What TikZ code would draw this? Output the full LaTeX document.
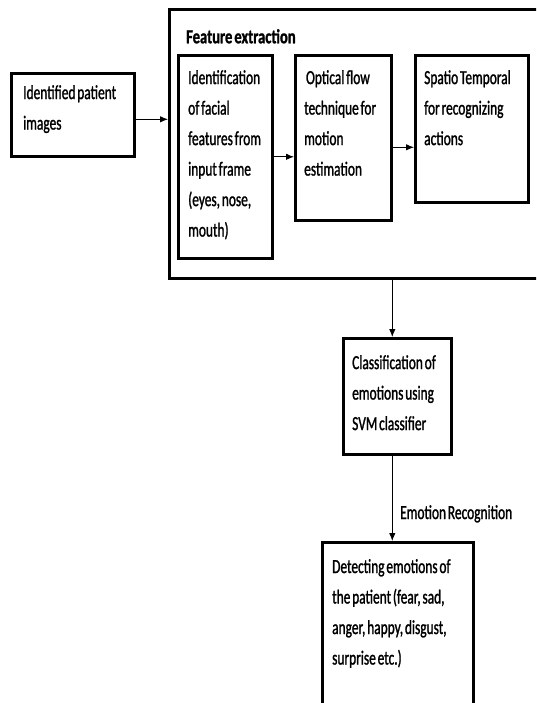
\documentclass[tikz,border=0pt]{standalone}
\usepackage{fontspec}
\setmainfont{Carlito}[FakeStretch=0.67, FakeBold=1.2, WordSpace=0.6, BoldFeatures={FakeStretch=0.73, FakeBold=1.2}]
\usetikzlibrary{arrows.meta}
\begin{document}
\begin{tikzpicture}[x=1pt,y=-1pt,
  box/.style={draw, line width=2.6pt, anchor=north west, inner sep=0pt, fill=white},
  txt/.style={anchor=north west, inner sep=0pt, align=left, font=\fontsize{20}{30.5}\selectfont},
  arr/.style={line width=0.9pt, -{Latex[length=8pt,width=6.5pt]}}]
\clip (0,0) rectangle (536,703);
\fill[white] (0,0) rectangle (536,703);
% boxes
\node[box, minimum width=123pt, minimum height=83pt] (inp) at (10,72) {};
\node[box, minimum width=380pt, minimum height=269pt] (outer) at (168,8) {};
\node[box, minimum width=94pt, minimum height=203pt] (b1) at (177,54) {};
\node[box, minimum width=96pt, minimum height=165pt] (b2) at (294,54) {};
\node[box, minimum width=113pt, minimum height=147pt] (b3) at (414,54) {};
\node[box, minimum width=108pt, minimum height=116pt] (cls) at (342,337) {};
\node[box, minimum width=151pt, minimum height=190pt] (det) at (321,541) {};
% texts
\node[txt] (tinp) at (23,85) {Identified patient\\images};
\node[txt, font=\fontsize{20}{30.5}\selectfont\bfseries] (tfe) at (186,29) {Feature extraction};
\node[txt] (tb1) at (188,70) {Identification\\of facial\\features from\\input frame\\(eyes, nose,\\mouth)};
\node[txt] (tb2) at (304,70) {\ Optical flow\\technique for\\motion\\estimation};
\node[txt] (tb3) at (424,70) {Spatio Temporal\\for recognizing\\actions};
\node[txt] (tcls) at (352,355) {Classification of\\emotions using\\SVM classifier};
\node[txt] (tdet) at (332,559) {Detecting emotions of\\the patient (fear, sad,\\anger, happy, disgust,\\surprise etc.)};
\node[txt] (ter) at (400,505) {Emotion Recognition};
% connectors
\draw[arr] ([yshift=-4.5pt]inp.east) -- ([yshift=-4.5pt]inp.east -| outer.west);
\draw[arr] (b1.east) -- (b1.east -| b2.west);
\draw[arr] ([yshift=-9.5pt]b2.east) -- ([yshift=-9.5pt]b2.east -| b3.west);
\draw[arr] ([xshift=-5pt]cls.north |- outer.south) -- ([xshift=-5pt]cls.north);
\draw[arr] ([xshift=-5pt]cls.south) -- ([xshift=-5pt]cls.south |- det.north);
\end{tikzpicture}
\end{document}
